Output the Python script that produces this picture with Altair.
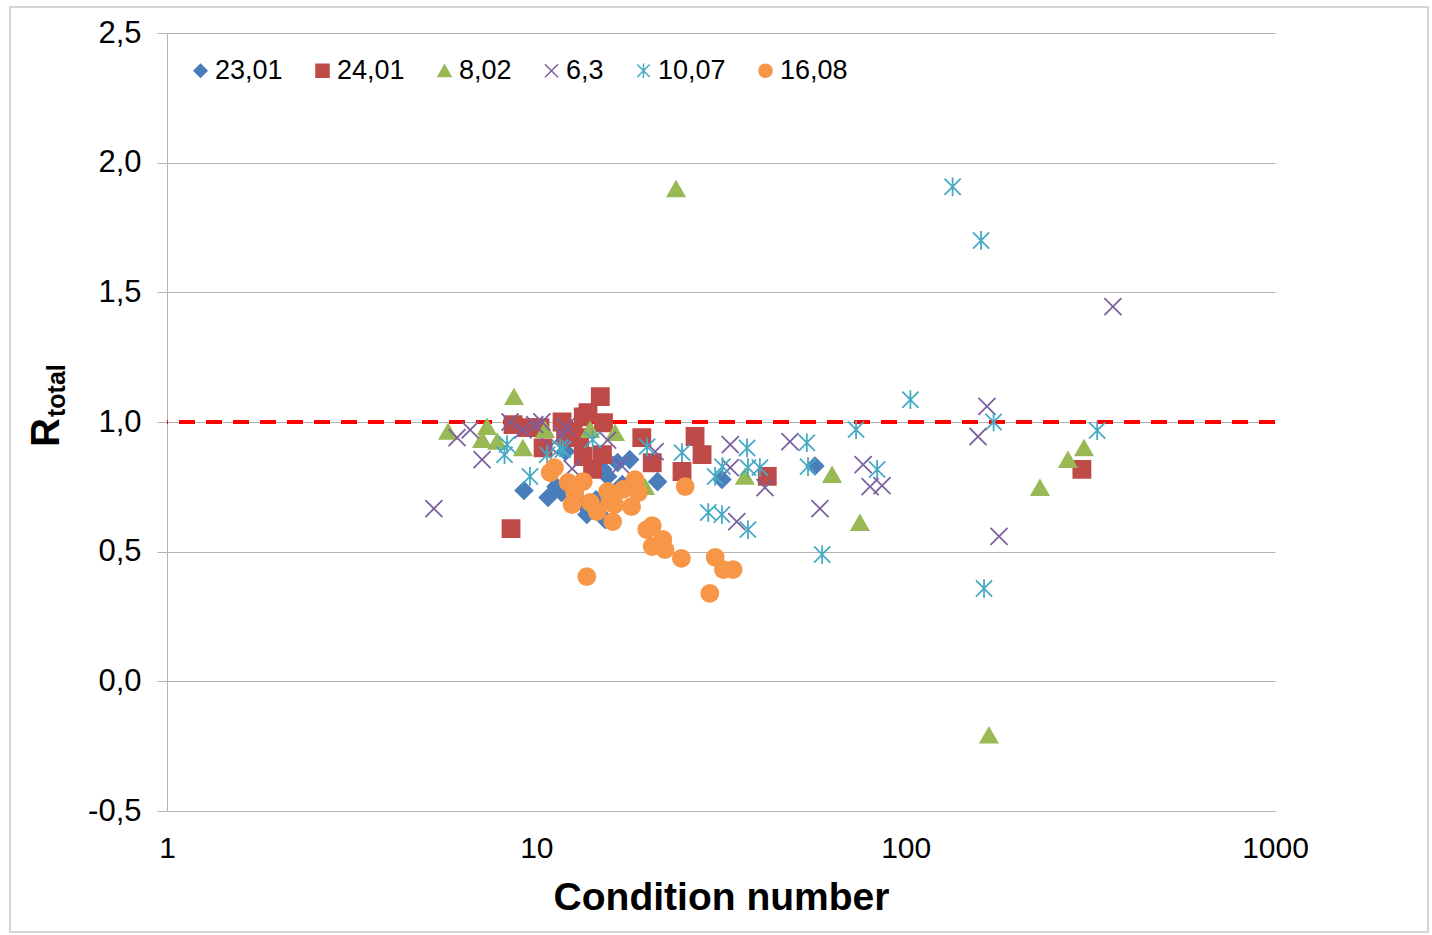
import altair as alt
import pandas as pd

# Series names (legend order) and marker colours
series_names = ["23,01", "24,01", "8,02", "6,3", "10,07", "16,08"]
series_colors = ["#4a7ebb", "#be4b48", "#98b954", "#7d60a0", "#46aac5", "#f79646"]

# Marker shapes: diamond, square, triangle, X cross, asterisk, circle
X_PATH = "M-1,-1L1,1M-1,1L1,-1"
STAR_PATH = "M-0.95,-0.95L0.95,0.95M-0.95,0.95L0.95,-0.95M0,-1.1L0,1.1"
series_shapes = ["diamond", "square", "triangle-up", X_PATH, STAR_PATH, "circle"]

# Condition number (x) and R_total (y) per series
cond_2301 = [9.26, 10.76, 11.3, 11.7, 12.0, 13.1, 13.4, 13.7, 14.5, 15.35, 15.15, 15.6,
             16.6, 17.9, 17.1, 21.3, 31.8, 56.8]
r_2301 = [0.736, 0.709, 0.751, 0.728, 0.886, 0.767, 0.682, 0.643, 0.70, 0.624, 0.817, 0.79,
          0.844, 0.855, 0.759, 0.77, 0.778, 0.83]

cond_2401 = [8.54, 8.65, 9.44, 10.23, 10.43, 11.74, 12.1, 12.0, 12.57, 13.1, 13.4, 13.8,
             14.2, 13.4, 14.9, 15.2, 15.1, 19.3, 20.6, 26.9, 28.1, 24.8, 42.2, 300]
r_2401 = [0.589, 0.99, 0.978, 0.978, 0.90, 1.0, 0.94, 0.96, 0.963, 0.94, 1.02, 1.036,
          0.817, 0.867, 1.098, 0.997, 0.874, 0.94, 0.843, 0.944, 0.874, 0.809, 0.79, 0.817]

cond_802 = [5.77, 7.35, 7.13, 7.83, 8.70, 9.2, 10.56, 13.98, 16.33, 19.7, 23.9, 36.7,
            63.2, 75.2, 168, 231, 275, 304]
r_802 = [0.963, 0.982, 0.932, 0.925, 1.097, 0.90, 0.97, 0.97, 0.959, 0.75, 1.899, 0.79,
         0.797, 0.612, -0.208, 0.747, 0.855, 0.90]

cond_63 = [5.28, 6.10, 6.62, 7.13, 8.49, 9.2, 9.9, 10.35, 10.9, 11.8, 12.0, 12.5, 15.6,
           16.9, 20.97, 33.5, 33.5, 34.9, 41.6, 48.6, 58.6, 76.7, 80.1, 86.3, 157, 166,
           179, 364]
r_63 = [0.666, 0.94, 0.97, 0.855, 1.0, 0.97, 0.99, 1.0, 0.905, 0.95, 0.98, 0.82, 0.93,
        0.836, 0.886, 0.913, 0.824, 0.616, 0.747, 0.924, 0.666, 0.836, 0.751, 0.755, 0.944,
        1.06, 0.559, 1.445]

cond_1007 = [8.33, 8.2, 9.61, 10.7, 11.6, 11.8, 14.2, 19.95, 24.8, 30.5, 31.9, 37.2, 37.4,
             40.3, 29.2, 31.8, 37.4, 54.0, 54.4, 59.4, 73.4, 83.7, 103, 134, 160, 163,
             173, 330]
r_1007 = [0.913, 0.874, 0.79, 0.874, 0.90, 0.894, 0.932, 0.905, 0.882, 0.79, 0.828, 0.90,
          0.824, 0.824, 0.651, 0.643, 0.585, 0.92, 0.828, 0.489, 0.971, 0.817, 1.086, 1.907,
          1.70, 0.358, 1.0, 0.967]

cond_1608 = [10.9, 11.2, 12.2, 13.4, 12.7, 12.5, 14.0, 14.6, 15.6, 15.8, 16.3, 17.2, 18.5,
             18.9, 18.1, 16.1, 19.9, 20.6, 20.6, 22.0, 22.3, 24.7, 25.3, 30.5, 32.1, 34.1,
             29.5, 13.7]
r_1608 = [0.805, 0.824, 0.767, 0.77, 0.728, 0.682, 0.69, 0.655, 0.732, 0.69, 0.682, 0.74,
          0.778, 0.728, 0.674, 0.616, 0.585, 0.60, 0.52, 0.547, 0.508, 0.474, 0.751, 0.478,
          0.431, 0.431, 0.339, 0.404]

y_ticks = [-0.5, 0.0, 0.5, 1.0, 1.5, 2.0, 2.5]
x_ticks = [1, 10, 100, 1000]
reference_level = 1.0

all_series = [
    ("23,01", cond_2301, r_2301),
    ("24,01", cond_2401, r_2401),
    ("8,02", cond_802, r_802),
    ("6,3", cond_63, r_63),
    ("10,07", cond_1007, r_1007),
    ("16,08", cond_1608, r_1608),
]
rows = []
for name, xs, ys in all_series:
    for xv, yv in zip(xs, ys):
        rows.append({"series": name, "cond": xv, "r": yv})
df = pd.DataFrame(rows)

W, H = 1108, 778
FONT = "Liberation Sans"
GRID = "#b4b4b4"

x_scale = alt.Scale(type="log", domain=[1, 1000], nice=False)
y_scale = alt.Scale(domain=[-0.5, 2.5], nice=False, zero=False)

legend = alt.Legend(
    title=None, orient="none", legendX=20, legendY=24, direction="horizontal",
    labelFontSize=27, labelFont=FONT, labelColor="black", symbolSize=170,
    columnPadding=26, labelOffset=1, padding=0, symbolStrokeWidth=1.5, symbolOpacity=1,
)

y_axis = alt.Axis(
    values=y_ticks, title=None,
    labelExpr="(datum.value < 0 ? '-' : '') + replace(format(abs(datum.value), '.1f'), '.', ',')",
    grid=True, gridColor=GRID, gridWidth=1, domainColor=GRID, tickColor=GRID, tickSize=10,
    labelFontSize=31, labelFont=FONT, labelColor="black", labelPadding=16,
)
x_axis = alt.Axis(
    values=x_ticks, format="d", grid=False, ticks=False, domainColor=GRID,
    labelFontSize=30, labelFont=FONT, labelColor="black", labelPadding=22, labelFlush=False,
    title="Condition number", titleFont=FONT, titleFontSize=39, titleFontWeight="bold",
    titleColor="black", titleBaseline="alphabetic", titleY=98,
)

ref_line = alt.Chart(pd.DataFrame({"level": [reference_level]})).mark_rule(
    color="#ff0000", strokeWidth=4, strokeDash=[16, 11]
).encode(y=alt.Y("level:Q", scale=y_scale, axis=y_axis))

points = alt.Chart(df).mark_point(filled=True, opacity=1, size=290, strokeWidth=1.8).encode(
    x=alt.X("cond:Q", scale=x_scale, axis=x_axis),
    y=alt.Y("r:Q", scale=y_scale, axis=y_axis),
    fill=alt.Fill("series:N", scale=alt.Scale(domain=series_names, range=series_colors), legend=legend),
    stroke=alt.Stroke("series:N", scale=alt.Scale(domain=series_names, range=series_colors), legend=legend),
    shape=alt.Shape("series:N", scale=alt.Scale(domain=series_names, range=series_shapes), legend=legend),
)

# Y title: "R" with subscript "total", rotated
title_main = alt.Chart(pd.DataFrame({"t": ["R"]})).mark_text(
    angle=270, align="left", baseline="alphabetic", font=FONT, fontSize=40,
    fontWeight="bold", color="black"
).encode(text="t:N", x=alt.value(-108), y=alt.value(414))
title_sub = alt.Chart(pd.DataFrame({"t": ["total"]})).mark_text(
    angle=270, align="left", baseline="alphabetic", font=FONT, fontSize=25,
    fontWeight="bold", color="black"
).encode(text="t:N", x=alt.value(-102), y=alt.value(384))

# Thin frame around the whole chart
frame = alt.Chart(pd.DataFrame({"a": [0]})).mark_rect(
    fill=None, stroke="#c8c8c8", strokeWidth=1.5
).encode(x=alt.value(-157), x2=alt.value(1261), y=alt.value(-26), y2=alt.value(899))

chart = alt.layer(frame, ref_line, points, title_main, title_sub).resolve_scale(
    y="shared"
).properties(
    width=W, height=H,
    autosize=alt.AutoSizeParams(type="none"),
    padding={"left": 167, "top": 33, "right": 157, "bottom": 124},
    background="white",
).configure_view(stroke=None)

chart.save("out.html", embed_options={"renderer": "svg", "actions": False})
